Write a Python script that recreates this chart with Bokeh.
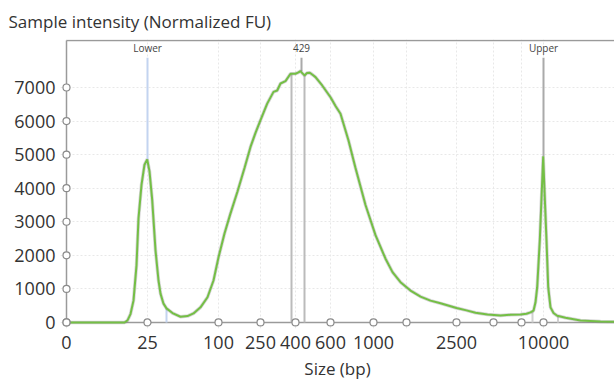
import numpy as np
from bokeh.plotting import figure
from bokeh.models import Range1d, FixedTicker
from bokeh.core.properties import value
from bokeh.embed import file_html
from bokeh.resources import INLINE

# ---- data -------------------------------------------------------------
# x axis is the migration axis; ladder sizes (bp) label selected positions
ladder_pos = [0, 81, 152, 194, 229, 264, 307, 340, 390, 427, 455, 477]
ladder_labels = ["0", "25", "100", "250", "400", "600", "1000", "", "2500", "", "", "10000"]
y_ticks = [0, 1000, 2000, 3000, 4000, 5000, 6000, 7000]

trace_pos = [0, 34, 58, 61, 64, 67, 70, 72, 75, 78, 80.7, 83, 85.7, 89, 92, 94, 97, 100,
             106, 114, 121, 127, 134, 141, 147, 152, 158, 164, 171, 178, 184, 189, 194,
             200.7, 207, 210.7, 214, 219, 224, 229, 232, 234, 236, 238, 240.5, 243.3,
             246, 249, 255.7, 264, 269, 274, 282, 289, 299, 309, 319, 326, 334, 344, 354,
             364, 374, 390, 400, 409, 421, 434, 444, 454, 460, 464, 467, 469, 470.7, 473.3,
             475, 476.7, 478.3, 480, 481.7, 484, 487, 490.7, 499, 514, 534, 548]
trace_fu = [0, 0, 0, 60, 250, 650, 1700, 3100, 4100, 4700, 4860, 4500, 3650, 2150, 1250,
            860, 560, 420, 280, 170, 190, 270, 450, 750, 1250, 1940, 2650, 3250, 3900,
            4600, 5230, 5650, 6030, 6520, 6870, 6910, 7120, 7190, 7410, 7410, 7450, 7490,
            7420, 7360, 7430, 7440, 7380, 7310, 7060, 6710, 6450, 6220, 5420, 4600, 3500,
            2600, 1900, 1500, 1200, 950, 770, 650, 570, 430, 360, 290, 240, 210, 230, 240,
            260, 300, 350, 600, 1050, 2450, 3700, 4950, 3700, 2450, 1050, 450, 280, 200,
            140, 60, 30, 20]

marker_names = ["Lower", "429", "Upper"]
marker_pos = [81, 235, 477]
marker_fu = [4860, 7490, 4950]
marker_colors = ["#c3d4f0", "#aaaaaa", "#aaaaaa"]

bound_pos = [100, 225, 238, 466, 491.5]
bound_colors = ["#c3d4f0", "#bbbbbb", "#bbbbbb", "#d0d0d0", "#d0d0d0"]

# ---- layout constants -----------------------------------------------
X_END = 548
Y_TOP = 8400
PAD_X = 6
PAD_Y = 180
LABEL_Y = 8170
LABEL_LINE_TOP = 7890
FONT = "Open Sans"
TXT = "#333333"

p = figure(width=614, height=382, output_backend="svg", toolbar_location=None,
           x_range=Range1d(-PAD_X, X_END), y_range=Range1d(-PAD_Y, Y_TOP + 30),
           min_border_left=60, min_border_right=0, min_border_top=39, min_border_bottom=54)
p.outline_line_color = None
p.background_fill_color = "white"
p.border_fill_color = "white"

p.title.text = "Sample intensity (Normalized FU)"
p.title.text_font = FONT
p.title.text_font_size = "17px"
p.title.text_font_style = "normal"
p.title.text_color = TXT
p.title.align = "left"
p.title.offset = -52
p.title.standoff = 14

# axes (labels only, lines drawn as glyphs)
for ax in (p.xaxis[0], p.yaxis[0]):
    ax.axis_line_color = None
    ax.major_tick_line_color = None
    ax.minor_tick_line_color = None
    ax.major_tick_out = 0
    ax.major_tick_in = 0
    ax.major_label_text_font = FONT
    ax.major_label_text_font_size = "18px"
    ax.major_label_text_color = TXT

p.xaxis.ticker = FixedTicker(ticks=ladder_pos)
p.xaxis.major_label_overrides = {pos: lab for pos, lab in zip(ladder_pos, ladder_labels)}
p.xaxis.major_label_standoff = 7
p.xaxis.axis_label = "Size (bp)"
p.xaxis.axis_label_text_font = FONT
p.xaxis.axis_label_text_font_size = "17px"
p.xaxis.axis_label_text_font_style = "normal"
p.xaxis.axis_label_text_color = TXT
p.xaxis.axis_label_standoff = 5

p.yaxis.ticker = FixedTicker(ticks=y_ticks)
p.yaxis.major_label_standoff = 5

p.xgrid.grid_line_color = "#e8e8e8"
p.xgrid.grid_line_dash = "2 2"
p.ygrid.grid_line_color = "#e8e8e8"
p.ygrid.grid_line_dash = "2 2"

# frame lines
p.segment(x0=[0, 0, 0], y0=[0, 0, Y_TOP], x1=[0, X_END, X_END], y1=[Y_TOP, 0, Y_TOP],
          line_color="#9a9a9a", line_width=1.5)

# region boundary lines
bound_fu = np.interp(bound_pos, trace_pos, trace_fu)
p.segment(x0=bound_pos, y0=[0] * len(bound_pos), x1=bound_pos, y1=bound_fu,
          line_color=bound_colors, line_width=2)

# peak marker lines and labels
p.segment(x0=marker_pos, y0=[LABEL_LINE_TOP] * 3, x1=marker_pos, y1=marker_fu,
          line_color=marker_colors, line_width=2)
p.text(x=marker_pos, y=[LABEL_Y] * 3, text=marker_names, text_font=value(FONT),
       text_font_size="10px", text_color="#444444", text_align="center",
       text_baseline="middle")

# trace
p.line(trace_pos, trace_fu, line_color="#777777", line_width=3.5, line_alpha=0.3)
p.line(trace_pos, trace_fu, line_color="#74bf45", line_width=2)

# tick circles
p.scatter(ladder_pos, [0] * len(ladder_pos), size=7, fill_color="white",
          line_color="#8a8a8a", line_width=1.2)
p.scatter([0] * len(y_ticks), y_ticks, size=7, fill_color="white",
          line_color="#8a8a8a", line_width=1.2)

open("out.html", "w").write(file_html(p, INLINE))
